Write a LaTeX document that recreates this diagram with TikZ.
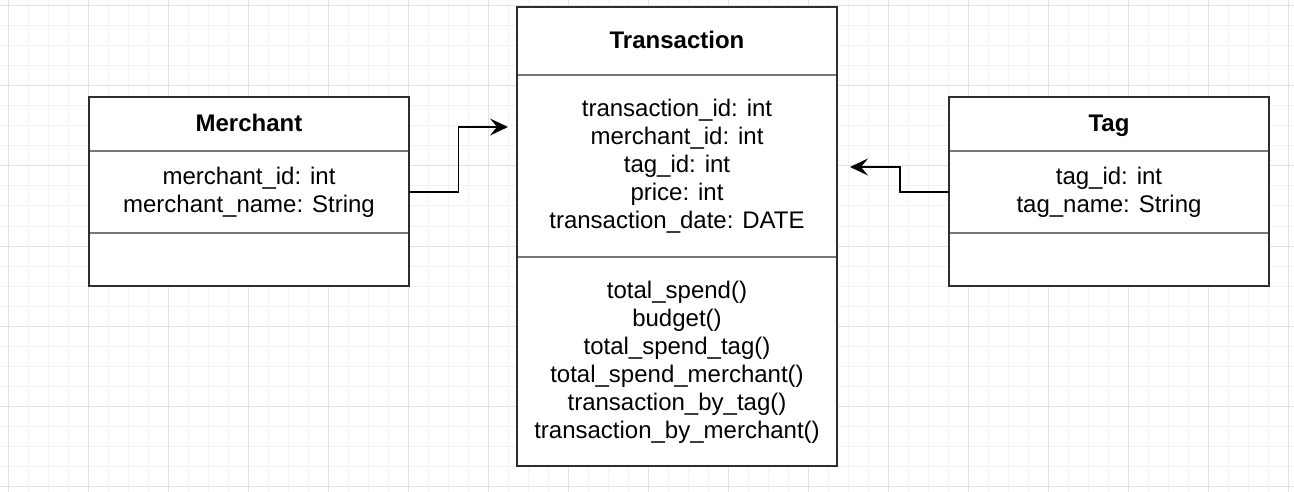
\documentclass[tikz,border=0pt]{standalone}
\usepackage{fontspec}
\setmainfont{Liberation Sans}
\usetikzlibrary{arrows.meta}
\definecolor{minorgrid}{HTML}{F3F3F3}
\definecolor{majorgrid}{HTML}{E2E2E2}
\definecolor{boxline}{HTML}{2E2E2E}
\definecolor{sepline}{HTML}{787878}
\tikzset{
  sec/.style={inner sep=0pt, minimum width=320pt, fill=white},
  txt/.style={inner sep=0pt, align=center, font=\fontsize{24}{28}\selectfont},
  bodytxt/.style={txt, yshift=-0.5pt},
  ttl/.style={txt, yshift=1pt, text height=17.5pt, text depth=0pt, font=\fontsize{24}{28}\selectfont\bfseries},
  boxframe/.style={draw=boxline, line width=1.6pt},
  sepstroke/.style={draw=sepline, line width=1.5pt},
  conn/.style={draw=black, line width=1.4pt, -{Stealth[length=18pt, width=17pt, inset=7pt]}}
}
\begin{document}
\begin{tikzpicture}[x=1pt, y=-1pt]
\useasboundingbox (0,0) rectangle (1294,492);
% grid
\foreach \i in {0,...,64} {
  \draw[minorgrid, line width=1pt] ({8+20*\i},0) -- ({8+20*\i},492);
}
\foreach \j in {0,...,24} {
  \draw[minorgrid, line width=1pt] (0,{6+20*\j}) -- (1294,{6+20*\j});
}
\foreach \i in {0,...,16} {
  \draw[majorgrid, line width=1pt] ({8+80*\i},0) -- ({8+80*\i},492);
}
\foreach \j in {0,...,6} {
  \draw[majorgrid, line width=1pt] (0,{6+80*\j}) -- (1294,{6+80*\j});
}
% Merchant
\node[sec, minimum height=54pt] (mh) at (249,124) {};
\node[sec, minimum height=82pt] (ma) at (249,192) {};
\node[sec, minimum height=53pt] (mm) at (249,259.5) {};
\node[ttl] (mht) at (mh.center) {Merchant};
\node[bodytxt] (mat) at (ma.center) {merchant\_id: int\\merchant\_name: String};
\draw[sepstroke] (mh.south west) -- (mh.south east);
\draw[sepstroke] (ma.south west) -- (ma.south east);
\draw[boxframe] (mh.north west) rectangle (mm.south east);
% Transaction
\node[sec, minimum height=68pt] (th) at (677,41) {};
\node[sec, minimum height=182pt] (ta) at (677,166) {};
\node[sec, minimum height=209pt] (tm) at (677,361.5) {};
\node[ttl] (tht) at (th.center) {Transaction};
\node[bodytxt] (tat) at (ta.center) {transaction\_id: int\\merchant\_id: int\\tag\_id: int\\price: int\\transaction\_date: DATE};
\node[bodytxt] (tmt) at (tm.center) {total\_spend()\\budget()\\total\_spend\_tag()\\total\_spend\_merchant()\\transaction\_by\_tag()\\transaction\_by\_merchant()};
\draw[sepstroke] (th.south west) -- (th.south east);
\draw[sepstroke] (ta.south west) -- (ta.south east);
\draw[boxframe] (th.north west) rectangle (tm.south east);
% Tag
\node[sec, minimum height=54pt] (gh) at (1109,124) {};
\node[sec, minimum height=82pt] (ga) at (1109,192) {};
\node[sec, minimum height=53pt] (gm) at (1109,259.5) {};
\node[ttl] (ght) at (gh.center) {Tag};
\node[bodytxt] (gat) at (ga.center) {tag\_id: int\\tag\_name: String};
\draw[sepstroke] (gh.south west) -- (gh.south east);
\draw[sepstroke] (ga.south west) -- (ga.south east);
\draw[boxframe] (gh.north west) rectangle (gm.south east);
% connectors
\coordinate (tl) at (508,127);
\coordinate (tr) at (850,167);
\draw[conn] (ma.east) -- ++(49,0) |- (tl);
\draw[conn] (ga.west) -- ++(-49,0) |- (tr);
\end{tikzpicture}
\end{document}
